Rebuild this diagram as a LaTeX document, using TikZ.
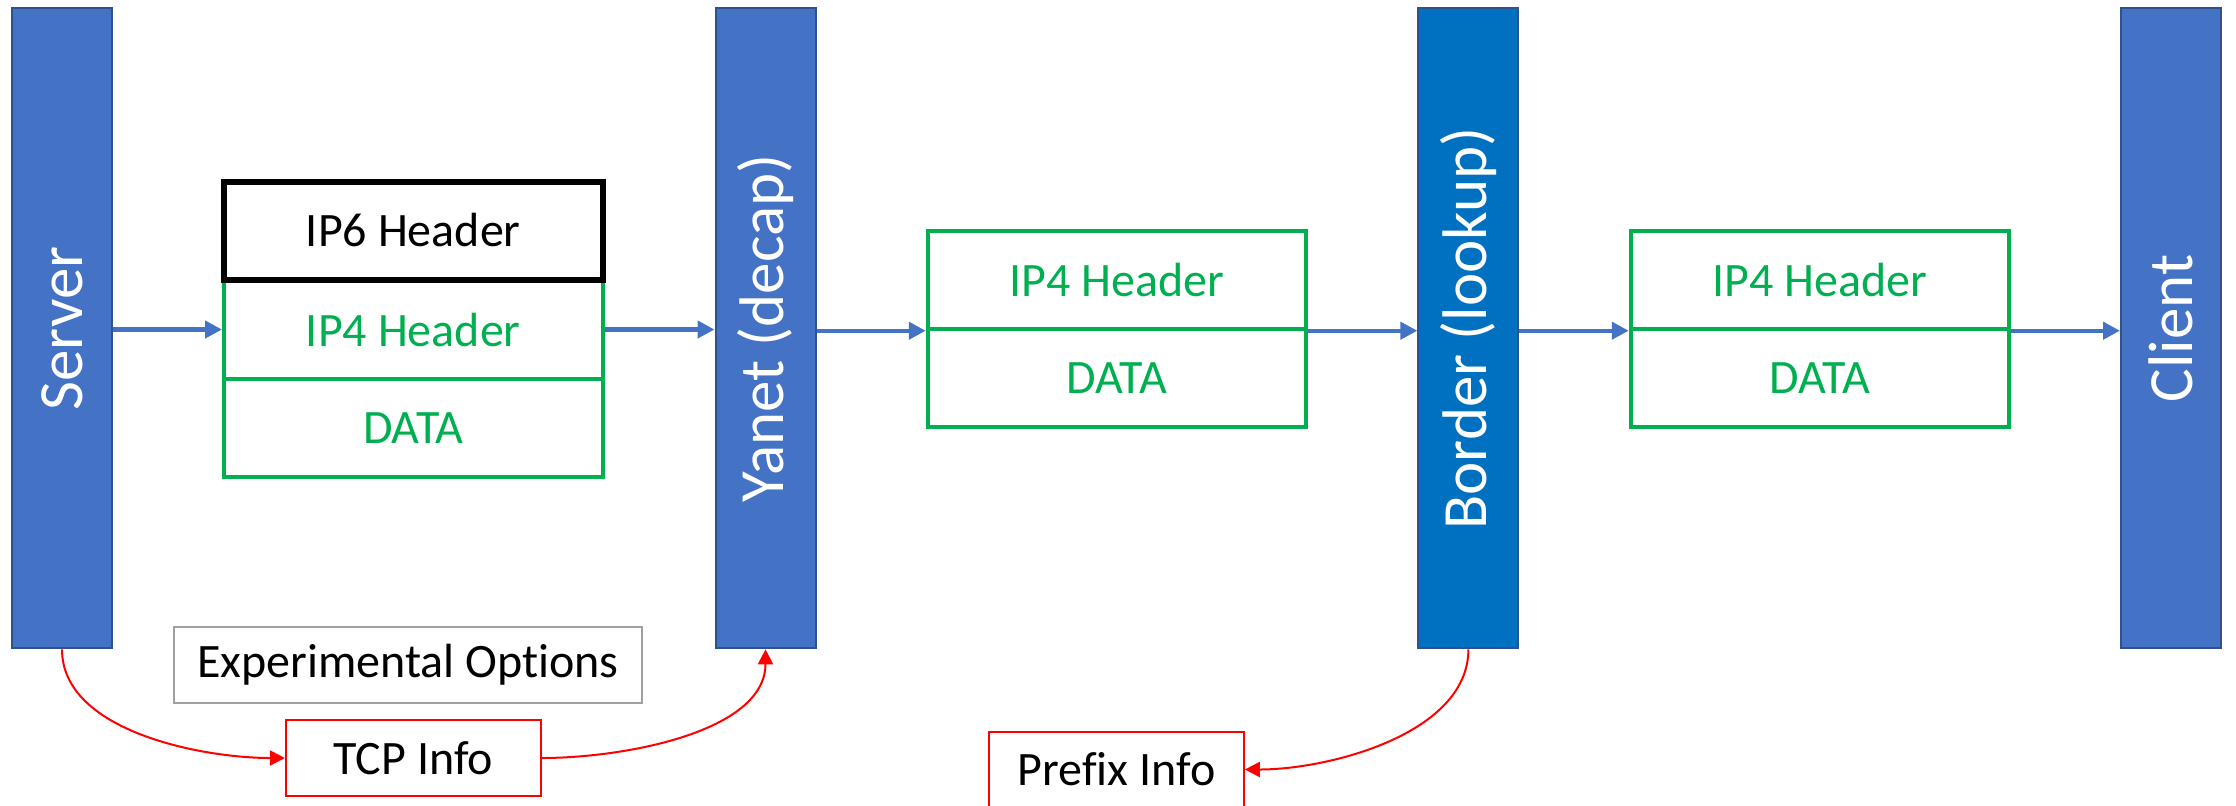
\documentclass[tikz,border=0pt]{standalone}
\usepackage{fontspec}
\setmainfont{Carlito}[Ligatures=NoCommon]
\usetikzlibrary{arrows.meta}
\definecolor{barblue}{HTML}{4472C4}
\definecolor{barline}{HTML}{2F528F}
\definecolor{bordblue}{HTML}{0070C0}
\definecolor{pktgreen}{HTML}{00B050}
\definecolor{infored}{HTML}{FF0000}
\definecolor{optgray}{HTML}{A0A0A0}
\begin{document}
\begin{tikzpicture}[x=0.5pt,y=-0.5pt,
  bar/.style={draw=barline, line width=1pt, fill=barblue, minimum width=50pt, minimum height=320pt, inner sep=0pt},
  bartext/.style={rotate=90, text=white, font=\fontsize{31.5}{37}\selectfont, inner sep=0pt},
  row/.style={draw=pktgreen, line width=2pt, minimum width=189.25pt, minimum height=49pt, inner sep=0pt, text=pktgreen, font=\fontsize{24}{28}\selectfont},
  blackrow/.style={row, draw=black, line width=3pt, text=black},
  infobox/.style={draw=infored, line width=1pt, minimum width=127.3pt, minimum height=38pt, inner sep=0pt, font=\fontsize{24}{28}\selectfont},
  optbox/.style={draw=optgray, line width=1pt, minimum width=233.8pt, minimum height=38pt, inner sep=0pt, font=\fontsize{24}{28}\selectfont},
  flow/.style={draw=barblue, line width=2.2pt, -{Triangle[length=8.5pt, width=8.5pt]}},
  info/.style={draw=infored, line width=1pt, -{Triangle[length=7.5pt, width=7.5pt]}}
]
\useasboundingbox (0,0) rectangle (2236,805);

% bars
\node[bar] (server) at (62,328.3) {};
\node[bartext] (serverlbl) at (server) {Server};
\node[bar] (yanet) at (765.5,328.3) {};
\node[bartext] (yanetlbl) at (yanet) {Yanet (decap)};
\node[bar, fill=bordblue] (border) at (1468.4,328.3) {};
\node[bartext] (borderlbl) at (border) {Border (lookup)};
\node[bar] (client) at (2171,328.3) {};
\node[bartext] (clientlbl) at (client) {Client};

% left packet
\node[row] (ipfoura) at (413.25,329.5) {IP4 Header};
\node[row] (dataa) at (413.25,428) {DATA};
\node[blackrow] (ipsix) at (413.25,230.5) {IP6 Header};

% middle packet
\node[row] (ipfourb) at (1117,279.7) {IP4 Header};
\node[row] (datab) at (1117,378) {DATA};

% right packet
\node[row] (ipfourc) at (1820,279.7) {IP4 Header};
\node[row] (datac) at (1820,378) {DATA};

% flow arrows
\draw[flow] (server.east |- ipfoura.west) -- (ipfoura.west);
\draw[flow] (ipfoura.east) -- (ipfoura.east -| yanet.west);
\draw[flow] (yanet.east |- ipfourb.south west) -- (ipfourb.south west);
\draw[flow] (ipfourb.south east) -- (ipfourb.south east -| border.west);
\draw[flow] (border.east |- ipfourc.south west) -- (ipfourc.south west);
\draw[flow] (ipfourc.south east) -- (ipfourc.south east -| client.west);

% lower boxes
\node[optbox] (opts) at (408,665) {Experimental Options};
\node[infobox] (tcp) at (413.25,758) {TCP Info};
\node[infobox] (prefix) at (1116.5,769.5) {Prefix Info};

% red curves
\draw[info] (server.south) to[out=-90, in=180, looseness=0.85] (tcp.west);
\draw[info] (tcp.east) to[out=0, in=-90, looseness=0.85] (yanet.south);
\draw[info] (border.south) to[out=-90, in=0, looseness=0.85] (prefix.east);
\end{tikzpicture}
\end{document}
